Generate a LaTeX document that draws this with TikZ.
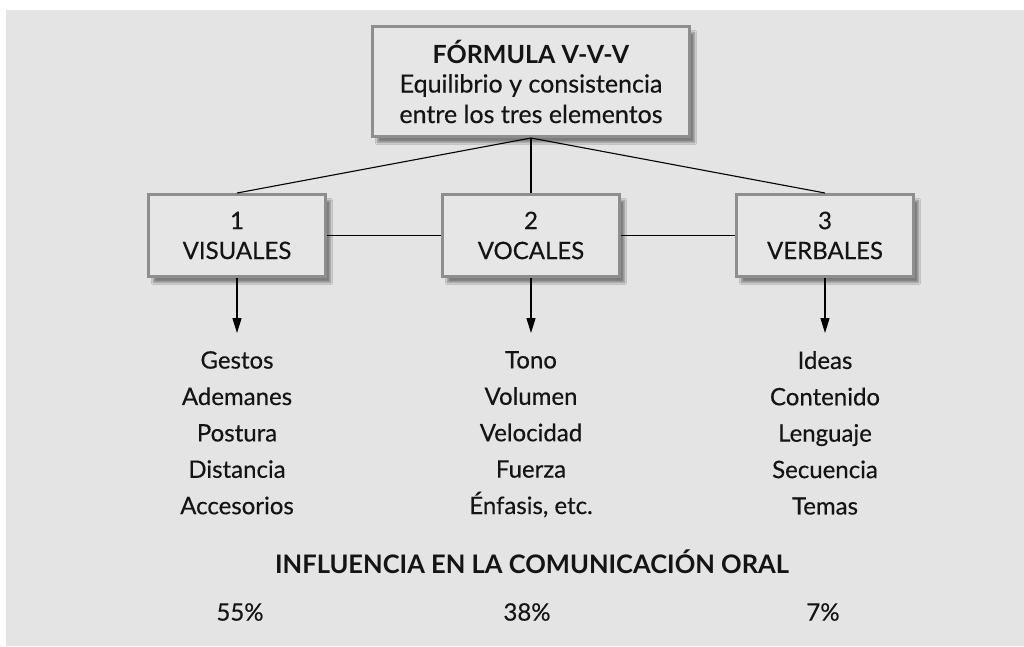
\documentclass[tikz,border=0pt]{standalone}
\usepackage{fontspec}
\setmainfont{Lato}[UprightFeatures={FakeBold=0.4}]
\usetikzlibrary{arrows.meta,shadows.blur}
\definecolor{bg}{HTML}{E4E4E4}
\definecolor{boxfill}{HTML}{E6E6E6}
\definecolor{boxline}{HTML}{8E8E8E}
\definecolor{ink}{HTML}{141414}
\tikzset{
  x=1pt,y=1pt,
  txt/.style={font=\fontsize{24}{30}\selectfont, text=ink, align=center, inner sep=0pt},
  listtxt/.style={font=\fontsize{24}{36.4}\selectfont, text=ink, align=center, inner sep=0pt},
  vbox/.style={draw=boxline, line width=3pt, fill=boxfill, minimum width=177pt, minimum height=82pt, inner sep=0pt,
    blur shadow={shadow xshift=5pt, shadow yshift=-6pt, shadow blur steps=12, shadow opacity=45}},
  conn/.style={draw=black, line width=1.4pt},
  slant/.style={draw=black, line width=1.1pt},
  arr/.style={draw=black, line width=1.4pt, -{Triangle[length=15pt,width=9pt]}},
}
\begin{document}
\begin{tikzpicture}
\useasboundingbox (0,0) rectangle (1024,-646);
\fill[bg] (6,-10) rectangle (1024,-646);

\node[vbox, minimum width=317pt, minimum height=110pt, txt, font=\fontsize{25}{30.5}\selectfont] (top) at (531,-81.5)
  {\textbf{FÓRMULA V-V-V}\\[-1pt]Equilibrio y consistencia\\entre los tres elementos};

\node[vbox, txt] (b1) at (237,-235.5) {1\\VISUALES};
\node[vbox, txt] (b2) at (531,-235.5) {2\\VOCALES};
\node[vbox, txt] (b3) at (825,-235.5) {3\\VERBALES};

\draw[slant] (top.south) -- (b1.north);
\draw[conn] (top.south) -- (b2.north);
\draw[slant] (top.south) -- (b3.north);
\draw[conn] (b1.east) -- (b2.west);
\draw[conn] (b2.east) -- (b3.west);

\coordinate (e1) at (237,-333);
\coordinate (e2) at (531,-333);
\coordinate (e3) at (825,-333);
\draw[arr] (b1.south) -- (e1);
\draw[arr] (b2.south) -- (e2);
\draw[arr] (b3.south) -- (e3);

\node[listtxt, anchor=north] (l1) at (237,-351) {Gestos\\Ademanes\\Postura\\Distancia\\Accesorios};
\node[listtxt, anchor=north] (l2) at (531,-351) {Tono\\Volumen\\Velocidad\\Fuerza\\Énfasis, etc.};
\node[listtxt, anchor=north] (l3) at (825,-351) {Ideas\\Contenido\\Lenguaje\\Secuencia\\Temas};

\node[txt, font=\bfseries\fontsize{25.5}{30}\selectfont] (infl) at (532,-562) {INFLUENCIA EN LA COMUNICACIÓN ORAL};
\node[txt] (p1) at (240,-612) {55\%};
\node[txt] (p2) at (527,-612) {38\%};
\node[txt] (p3) at (823,-612) {7\%};
\end{tikzpicture}
\end{document}
